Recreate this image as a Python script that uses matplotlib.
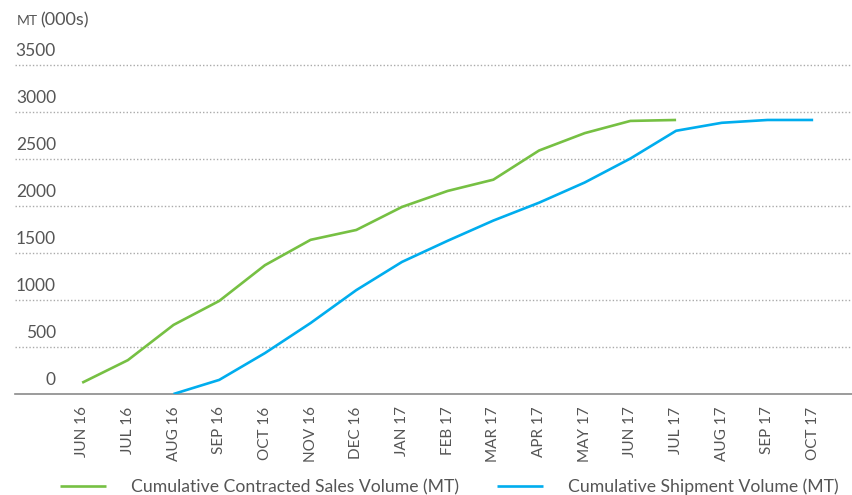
import matplotlib.pyplot as plt

months = ['JUN 16', 'JUL 16', 'AUG 16', 'SEP 16', 'OCT 16', 'NOV 16', 'DEC 16',
          'JAN 17', 'FEB 17', 'MAR 17', 'APR 17', 'MAY 17', 'JUN 17', 'JUL 17',
          'AUG 17', 'SEP 17', 'OCT 17']
contracted = [120, 360, 735, 990, 1370, 1640, 1745, 1990, 2160, 2280, 2590, 2775, 2905, 2915]
shipment = [0, 150, 435, 755, 1105, 1405, 1630, 1845, 2035, 2250, 2505, 2800, 2885, 2915, 2915]
yticks = [0, 500, 1000, 1500, 2000, 2500, 3000, 3500]

green = '#76c043'
blue = '#00adee'
grey = '#555555'

plt.rcParams['font.family'] = ['Lato', 'DejaVu Sans']

fig = plt.figure(figsize=(8.52, 4.95), dpi=100)
ax = fig.add_axes([15 / 852, 101 / 495, 837 / 852, 334 / 495])

x_con = list(range(len(contracted)))
x_shp = list(range(2, 2 + len(shipment)))
ax.plot(x_con, contracted, color=green, lw=1.9, label='Cumulative Contracted Sales Volume (MT)',
        solid_capstyle='butt', zorder=3)
ax.plot(x_shp, shipment, color=blue, lw=1.9, label='Cumulative Shipment Volume (MT)',
        solid_capstyle='butt', zorder=3)

ax.set_xlim(-1.47, 16.85)
ax.set_ylim(0, 3553)

# dotted grid lines with labels sitting above them
for v in yticks[1:]:
    ax.axhline(v, color='#aaaaaa', lw=1, ls=(0, (1, 1.5)), zorder=1)
for v in yticks:
    ax.annotate(str(v), xy=(0, v), xycoords=('axes fraction', 'data'),
                xytext=(41 * 0.72, 10), textcoords='offset points',
                ha='right', va='center', fontsize=12.5, color=grey)

ax.set_yticks([])
ax.set_xticks(range(len(months)))
ax.set_xticklabels(months, rotation=90, fontsize=11, color=grey)
ax.tick_params(axis='x', length=0, pad=9)
for s in ['top', 'right', 'left']:
    ax.spines[s].set_visible(False)
ax.spines['bottom'].set_color('#8a8a8a')
ax.spines['bottom'].set_linewidth(1.2)

fig.text(17 / 852, 1 - 21 / 495, 'MT', fontsize=10, color=grey, va='center', ha='left')
fig.text(40 / 852, 1 - 20 / 495, '(000s)', fontsize=13, color=grey, va='center', ha='left')

leg = fig.legend(loc='center left', bbox_to_anchor=(60 / 852, 8 / 495), ncol=2, frameon=False,
                 fontsize=12.7, handlelength=2.6, handletextpad=1.4, columnspacing=2.2,
                 borderpad=0, borderaxespad=0)
for t in leg.get_texts():
    t.set_color(grey)

fig.savefig('out.png', dpi=100)
